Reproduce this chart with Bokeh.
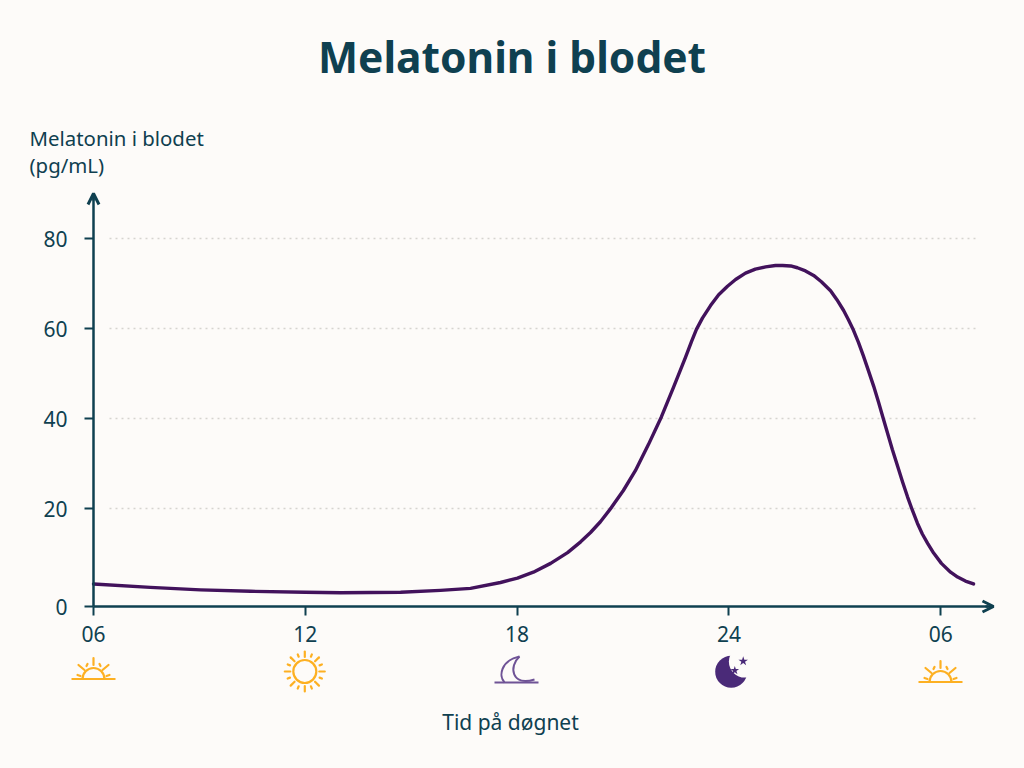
import numpy as np
from bokeh.plotting import figure
from bokeh.models import LinearAxis, FixedTicker, Arrow, OpenHead
from bokeh.core.properties import value
from bokeh.embed import file_html
from bokeh.resources import INLINE

# ---- chart values -------------------------------------------------
title_text = "Melatonin i blodet"
y_title = ["Melatonin i blodet", "(pg/mL)"]
x_title = "Tid på døgnet"
x_ticks = [6, 12, 18, 24, 30]
x_tick_labels = ["06", "12", "18", "24", "06"]
y_ticks = [0, 20, 40, 60, 80]
y_tick_labels = ["0", "20", "40", "60", "80"]
hours = [6.0, 7.61, 9.03, 10.45, 12.0, 13.0, 14.7, 15.83, 16.68, 17.53, 18.01, 18.46, 18.95,
         19.43, 19.80, 20.08, 20.36, 20.67, 21.01, 21.35, 21.72, 22.09, 22.43, 22.77, 22.94,
         23.08, 23.25, 23.48, 23.71, 23.96, 24.19, 24.47, 24.75, 25.04, 25.32, 25.52, 25.75,
         25.94, 26.17, 26.40, 26.62, 26.88, 27.06, 27.25, 27.39, 27.53, 27.67, 27.81, 27.95,
         28.10, 28.24, 28.35, 28.63, 28.78, 28.92, 29.06, 29.20, 29.34, 29.48, 29.63, 29.80,
         30.02, 30.28, 30.48, 30.70, 30.93]
melatonin = [4.6, 3.9, 3.4, 3.1, 2.9, 2.8, 2.9, 3.3, 3.7, 4.9, 5.8, 7.0, 8.8,
             11.0, 13.2, 15.1, 17.3, 20.2, 24.0, 28.4, 34.2, 40.4, 46.9, 53.6, 57.1,
             59.8, 62.3, 65.1, 67.5, 69.4, 70.9, 72.3, 73.2, 73.7, 74.0, 74.0, 73.9,
             73.5, 72.8, 71.8, 70.4, 68.4, 66.4, 64.0, 61.9, 59.6, 56.9, 53.9, 50.7,
             47.2, 43.6, 40.6, 33.1, 29.4, 25.9, 22.6, 19.6, 17.0, 14.8, 12.9, 10.9,
             8.8, 7.0, 6.0, 5.2, 4.6]

# ---- style --------------------------------------------------------
BG = "#FDFBF9"
INK = "#0F4050"
CURVE = "#42125C"
GRID = "#D6D4D0"
SUN = "#FDB022"
MOON_LINE = "#6F5396"
MOON = "#4A2A78"
FONT = "Noto Sans"
W, H = 1024, 768
PX_PER_H, PX_PER_V = 35.3, 4.5


def X(px):
    return 6 + (np.asarray(px, dtype=float) - 93) / PX_PER_H


def Y(py):
    return (598 - np.asarray(py, dtype=float)) / PX_PER_V


def to_axis(v):
    # the reference's axis gives the 0-20 band a little more height than the others
    return np.interp(v, [0, 20, 80], [-1.78, 20, 80])


p = figure(width=W, height=H, output_backend="svg", toolbar_location=None,
           x_range=(float(X(0)), float(X(W))), y_range=(float(Y(H)), float(Y(0))),
           x_axis_type=None, y_axis_type=None, min_border=0,
           background_fill_color=BG, border_fill_color=BG, outline_line_color=None)
p.grid.visible = False

y0 = float(to_axis(0))
y_pos = [round(float(to_axis(v)), 2) for v in y_ticks]

# grid
p.segment(x0=[float(X(109))] * 4, x1=[float(X(975))] * 4, y0=y_pos[1:], y1=y_pos[1:],
          line_color=GRID, line_width=1.5, line_dash="2 4")

# axes
xax = LinearAxis(fixed_location=y0, ticker=FixedTicker(ticks=x_ticks),
                 major_label_overrides=dict(zip(x_ticks, x_tick_labels)),
                 bounds=(6, float(X(988))))
yax = LinearAxis(fixed_location=6, ticker=FixedTicker(ticks=y_pos),
                 major_label_overrides=dict(zip(y_pos, y_tick_labels)),
                 bounds=(y0, float(Y(197))))
for ax, standoff in ((xax, 10), (yax, 17)):
    ax.axis_line_color = INK
    ax.axis_line_width = 2.5
    ax.major_tick_line_color = INK
    ax.major_tick_line_width = 2
    ax.major_tick_out = 9
    ax.major_tick_in = 0
    ax.minor_tick_line_color = None
    ax.major_label_text_color = INK
    ax.major_label_text_font = FONT
    ax.major_label_text_font_size = "21px"
    ax.major_label_standoff = standoff
p.add_layout(xax, "below")
p.add_layout(yax, "left")

for (x0, y_0, x1, y1) in [(float(X(985)), y0, float(X(993)), y0),
                          (6.0, float(Y(200)), 6.0, float(Y(193)))]:
    p.add_layout(Arrow(end=OpenHead(size=11, line_color=INK, line_width=3),
                       x_start=x0, y_start=y_0, x_end=x1, y_end=y1,
                       line_color=INK, line_width=2.5))

# curve
p.line(hours, to_axis(melatonin), line_color=CURVE, line_width=3.4, line_cap="round", line_join="round")


def sunrise(cx, cy):
    p.line(X([cx - 22, cx + 22]), Y([cy, cy]), line_color=SUN, line_width=2.2)
    p.arc(x=[float(X(cx))], y=[float(Y(cy))], radius=11, radius_units="screen",
          start_angle=0, end_angle=np.pi, line_color=SUN, line_width=2.2)
    rays = [(0, -21, 0, -14), (-15, -14, -9, -9), (15, -14, 9, -9),
            (-16, -4, -13, -3), (16, -4, 13, -3), (6, -15, 7, -13), (-6, -15, -7, -13)]
    p.segment(X([cx + r[0] for r in rays]), Y([cy + r[1] for r in rays]),
              X([cx + r[2] for r in rays]), Y([cy + r[3] for r in rays]),
              line_color=SUN, line_width=2.2, line_cap="round")


sunrise(93, 678.5)
sunrise(940, 681.5)

# full sun
sx, sy = 304.3, 671
p.scatter([float(X(sx))], [float(Y(sy))], marker="circle", size=23, fill_color=None,
          line_color=SUN, line_width=2.2)
ang_long = np.arange(8) * np.pi / 4
ang_short = ang_long + np.pi / 8
xs0, ys0, xs1, ys1 = [], [], [], []
for a, r0, r1 in [(a, 14.5, 20) for a in ang_long] + [(a, 16, 18.5) for a in ang_short]:
    xs0.append(sx + r0 * np.cos(a)); ys0.append(sy + r0 * np.sin(a))
    xs1.append(sx + r1 * np.cos(a)); ys1.append(sy + r1 * np.sin(a))
p.segment(X(xs0), Y(ys0), X(xs1), Y(ys1), line_color=SUN, line_width=2.2, line_cap="round")

# thin moon on the horizon
p.line(X([494, 538]), Y([682, 682]), line_color=MOON_LINE, line_width=2)
p.bezier(x0=[float(X(519))] * 2, y0=[float(Y(656))] * 2,
         x1=[float(X(504)), float(X(534))], y1=[float(Y(682)), float(Y(679))],
         cx0=[float(X(500)), float(X(508))], cy0=[float(Y(660)), float(Y(666))],
         cx1=[float(X(498)), float(X(511))], cy1=[float(Y(676)), float(Y(686))],
         line_color=MOON_LINE, line_width=2)

# solid moon with stars
p.scatter([float(X(730.7))], [float(Y(671.3))], marker="circle", size=32, fill_color=MOON, line_color=None)
p.scatter([float(X(744.4))], [float(Y(661.1))], marker="circle", size=32, fill_color=BG, line_color=None)
p.scatter(X([742.7, 734.3]), Y([660.7, 670]), marker="star", size=[10, 9], fill_color=MOON, line_color=None)

# texts
p.text(x=[float(X(511.5))], y=[float(Y(55.7))], text=[title_text], text_color=INK, text_font=value(FONT),
       text_font_style="bold", text_font_size="42.5px", text_align="center", text_baseline="alphabetic")
p.text(x=[float(X(29))] * 2, y=[float(Y(137)), float(Y(164))], text=y_title, text_color=INK,
       text_font=value(FONT), text_font_size="20.4px", text_align="left", text_baseline="alphabetic")
p.text(x=[float(X(510))], y=[float(Y(721))], text=[x_title], text_color=INK, text_font=value(FONT),
       text_font_size="21px", text_align="center", text_baseline="alphabetic")

html = file_html(p, INLINE)
html = html.replace("<head>", "<head><style>html,body{background:%s;margin:0;overflow:hidden}</style>" % BG, 1)
open("out.html", "w").write(html)
